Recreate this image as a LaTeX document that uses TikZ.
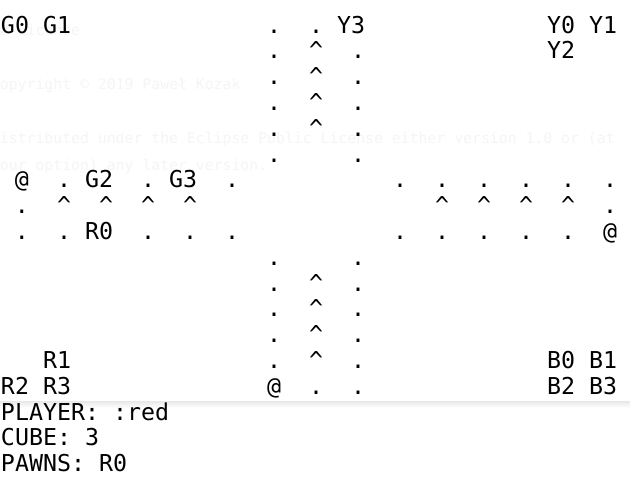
\documentclass[tikz,border=0pt]{standalone}
\usepackage{fontspec}
\newfontfamily\boardmono{DejaVu Sans Mono}
\tikzset{
  boardcell/.style={font=\boardmono\fontsize{23.26pt}{25.8pt}\selectfont, anchor=base west, inner sep=0pt, outer sep=0pt, text=black},
  fainttext/.style={font=\boardmono\fontsize{14.8pt}{27pt}\selectfont, anchor=base west, inner sep=0pt, outer sep=0pt, text=black!4},
}
\newcommand\boardline[2]{\foreach \c/\t in {#2}{\node[boardcell] (L#1C\c) at ({14*\c+1},{33+(#1-1)*25.8}) {\t};}}
\newcommand\crt{\textasciicircum}
\begin{document}
\begin{tikzpicture}[x=1pt,y=-1pt]
\useasboundingbox[fill=white] (0,0) rectangle (630,480);
% faint background text
\node[fainttext] (f1) at (-9,35) {\#\# License};
\node[fainttext] (f2) at (-9,89) {Copyright © 2019 Paweł Kozak};
\node[fainttext] (f3) at (-9,143) {Distributed under the Eclipse Public License either version 1.0 or (at};
\node[fainttext] (f4) at (-9,170) {your option) any later version.};
% separator shadow
\fill[top color=black!9, bottom color=white, draw=none] (0,401) rectangle (630,408);
% board
\boardline{1}{0/G0 G1, 19/., 22/., 24/Y3, 39/Y0 Y1}
\boardline{2}{19/., 22/\crt, 25/., 39/Y2}
\boardline{3}{19/., 22/\crt, 25/.}
\boardline{4}{19/., 22/\crt, 25/.}
\boardline{5}{19/., 22/\crt, 25/.}
\boardline{6}{19/., 25/.}
\boardline{7}{1/@, 4/., 6/G2, 10/., 12/G3, 16/., 28/., 31/., 34/., 37/., 40/., 43/.}
\boardline{8}{1/., 4/\crt, 7/\crt, 10/\crt, 13/\crt, 31/\crt, 34/\crt, 37/\crt, 40/\crt, 43/.}
\boardline{9}{1/., 4/., 6/R0, 10/., 13/., 16/., 28/., 31/., 34/., 37/., 40/., 43/@}
\boardline{10}{19/., 25/.}
\boardline{11}{19/., 22/\crt, 25/.}
\boardline{12}{19/., 22/\crt, 25/.}
\boardline{13}{19/., 22/\crt, 25/.}
\boardline{14}{3/R1, 19/., 22/\crt, 25/., 39/B0 B1}
\boardline{15}{0/R2 R3, 19/@, 22/., 25/., 39/B2 B3}
\boardline{16}{0/PLAYER: :red}
\boardline{17}{0/CUBE: 3}
\boardline{18}{0/PAWNS: R0}
\end{tikzpicture}
\end{document}
